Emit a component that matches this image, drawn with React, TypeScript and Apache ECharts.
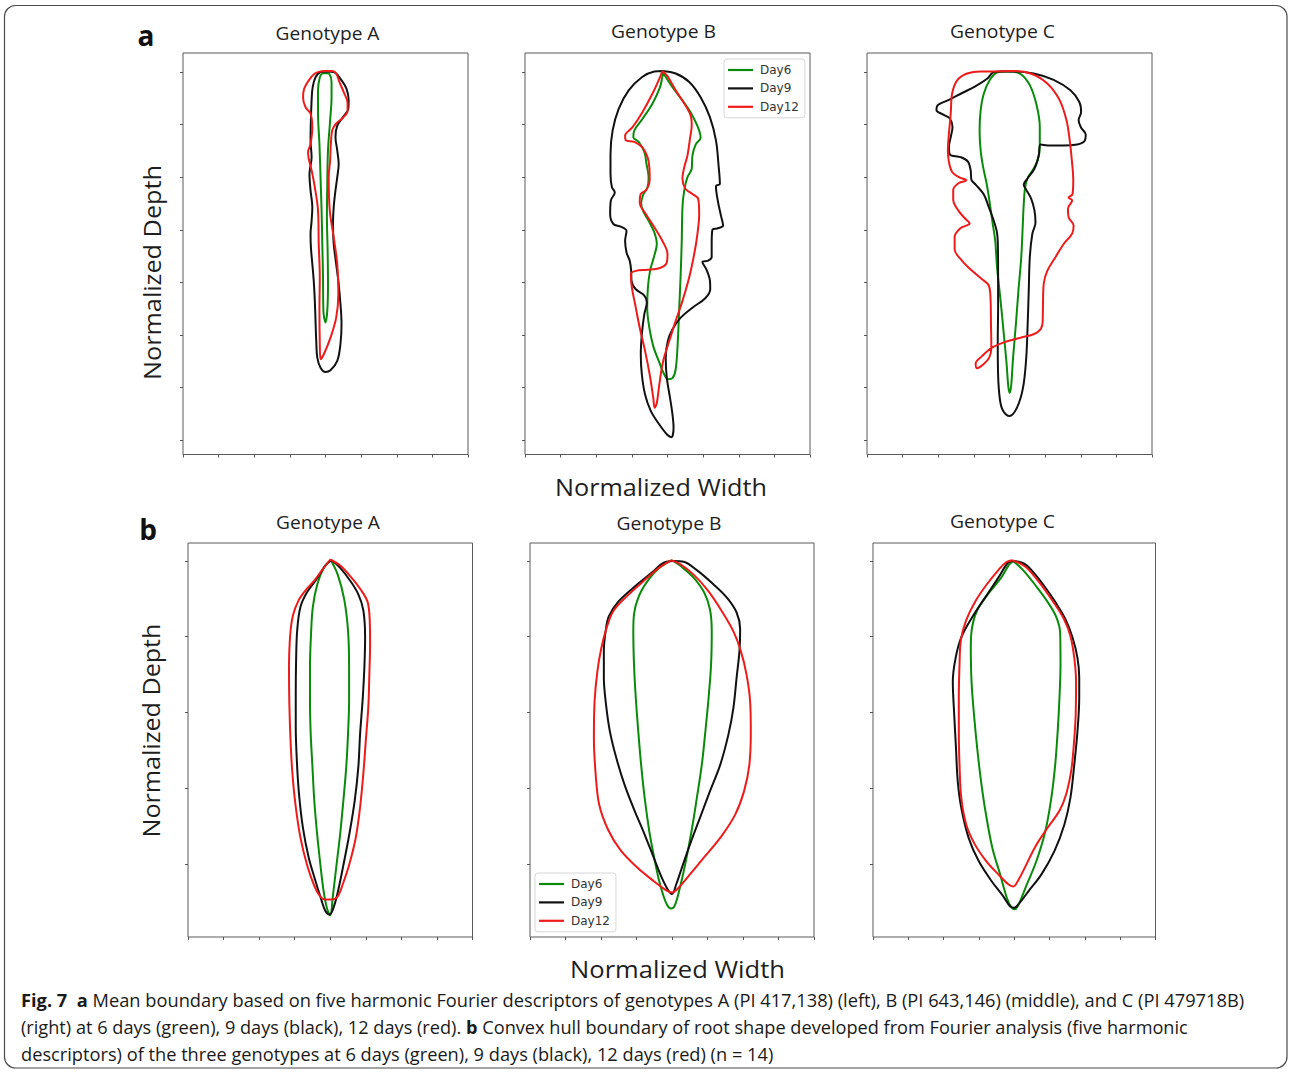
import React, { useEffect, useRef } from "react";
import * as echarts from "echarts";

// ---------- data ----------
const DAYS = ["Day6", "Day9", "Day12"];
const TITLES = ["Genotype A", "Genotype B", "Genotype C"];
const WIDTH_TICKS = [-4, 4, 1]; // min, max, interval (normalized width, tick units)
const DEPTH_TICKS_A = [0, 1, 2, 3, 4, 5, 6, 7];
const DEPTH_TICKS_B = [0, 1, 2, 3, 4];
const DEPTH_RANGE_A = [-0.36, 7.27];
const DEPTH_RANGE_B = [-0.238, 4.967];

// Row a: mean boundary (five harmonic Fourier descriptors), [width, depth]
const aA6 = [[0,0.02],[0.11,0.04],[0.17,0.19],[0.17,0.48],[0.13,0.92],[0.07,1.49],[0.05,2.13],[0.04,2.76],[0.06,3.4],[0.07,4.03],[0.05,4.54],[0,4.76],[-0.06,4.54],[-0.07,3.9],[-0.09,3.27],[-0.11,2.63],[-0.14,2.0],[-0.17,1.37],[-0.21,0.79],[-0.21,0.35],[-0.16,0.1],[-0.09,0.03]];
const aA9 = [[0,-0.01],[0.23,0],[0.42,0.13],[0.59,0.32],[0.65,0.54],[0.64,0.7],[0.51,0.84],[0.33,1.02],[0.28,1.24],[0.33,1.49],[0.37,1.75],[0.33,2.0],[0.28,2.25],[0.23,2.57],[0.21,2.89],[0.23,3.27],[0.3,3.65],[0.37,4.03],[0.42,4.41],[0.45,4.79],[0.42,5.17],[0.33,5.49],[0.14,5.67],[0,5.7],[-0.14,5.62],[-0.23,5.43],[-0.26,5.11],[-0.28,4.73],[-0.3,4.35],[-0.33,3.97],[-0.37,3.65],[-0.41,3.33],[-0.42,3.08],[-0.39,2.83],[-0.37,2.57],[-0.42,2.25],[-0.45,1.94],[-0.39,1.62],[-0.42,1.3],[-0.41,0.92],[-0.39,0.54],[-0.36,0.29],[-0.28,0.1],[-0.14,0]];
const aA12 = [[0,-0.02],[0.19,-0.02],[0.3,0.03],[0.39,0.19],[0.51,0.38],[0.62,0.59],[0.62,0.74],[0.49,0.87],[0.3,0.98],[0.19,1.11],[0.15,1.37],[0.13,1.68],[0.09,2.0],[0.12,2.63],[0.23,3.14],[0.33,3.65],[0.36,4.22],[0.3,4.67],[0.14,5.05],[-0.05,5.37],[-0.14,5.46],[-0.16,5.17],[-0.17,4.54],[-0.16,3.9],[-0.19,3.27],[-0.21,2.63],[-0.3,2.19],[-0.39,1.87],[-0.47,1.65],[-0.49,1.52],[-0.42,1.37],[-0.37,1.05],[-0.42,0.79],[-0.56,0.67],[-0.63,0.49],[-0.6,0.32],[-0.47,0.16],[-0.3,0.03],[-0.14,-0.01]];

const aB6 = [[-0.12,0.02],[0.14,0.29],[0.42,0.54],[0.7,0.83],[0.93,1.25],[0.79,1.38],[0.7,1.59],[0.68,1.84],[0.56,2.0],[0.47,2.25],[0.42,2.57],[0.4,3.21],[0.37,3.84],[0.33,4.48],[0.29,5.11],[0.23,5.65],[0.14,5.82],[0.02,5.84],[-0.09,5.75],[-0.23,5.52],[-0.4,5.21],[-0.51,4.86],[-0.57,4.48],[-0.55,4.1],[-0.49,3.78],[-0.37,3.49],[-0.3,3.27],[-0.37,3.05],[-0.53,2.83],[-0.68,2.65],[-0.74,2.5],[-0.68,2.33],[-0.56,2.19],[-0.53,2.0],[-0.59,1.75],[-0.65,1.52],[-0.81,1.33],[-0.96,1.24],[-0.93,1.11],[-0.7,0.89],[-0.42,0.6],[-0.21,0.29],[-0.14,0.08]];
const aB9 = [[-0.14,-0.02],[0.23,0.03],[0.61,0.19],[0.93,0.48],[1.19,0.86],[1.36,1.3],[1.43,1.75],[1.47,2.13],[1.36,2.17],[1.41,2.44],[1.5,2.73],[1.56,2.92],[1.42,2.97],[1.26,3.0],[1.24,3.27],[1.24,3.52],[1.12,3.59],[0.98,3.61],[1.09,3.75],[1.19,3.96],[1.2,4.13],[1.06,4.3],[0.7,4.48],[0.37,4.67],[0.14,4.89],[0.01,5.11],[-0.05,5.43],[-0.02,5.81],[0.07,6.19],[0.14,6.51],[0.17,6.76],[0.11,6.94],[0,6.9],[-0.23,6.7],[-0.47,6.44],[-0.63,6.13],[-0.72,5.75],[-0.75,5.37],[-0.72,4.98],[-0.65,4.6],[-0.58,4.38],[-0.65,4.25],[-0.89,4.13],[-1.01,3.97],[-1.02,3.78],[-1.06,3.59],[-1.15,3.43],[-1.19,3.21],[-1.15,3.02],[-1.31,2.94],[-1.52,2.89],[-1.61,2.7],[-1.59,2.44],[-1.48,2.29],[-1.56,2.19],[-1.6,1.94],[-1.6,1.56],[-1.54,1.11],[-1.37,0.7],[-1.09,0.35],[-0.72,0.1],[-0.37,-0.01]];
const aB12 = [[-0.14,-0.02],[0,0.08],[0.23,0.35],[0.47,0.6],[0.65,0.83],[0.68,1.02],[0.63,1.27],[0.56,1.59],[0.47,1.81],[0.42,2.03],[0.5,2.22],[0.7,2.32],[0.86,2.41],[0.89,2.7],[0.84,3.08],[0.75,3.46],[0.61,3.9],[0.42,4.35],[0.23,4.73],[0.05,5.11],[-0.12,5.49],[-0.23,5.94],[-0.3,6.29],[-0.36,6.38],[-0.4,6.19],[-0.5,5.75],[-0.63,5.3],[-0.78,4.86],[-0.91,4.41],[-1.0,4.1],[-1.03,3.84],[-0.89,3.78],[-0.56,3.76],[-0.23,3.73],[-0.03,3.64],[0,3.46],[-0.12,3.24],[-0.37,2.95],[-0.61,2.7],[-0.78,2.48],[-0.75,2.32],[-0.59,2.24],[-0.5,2.06],[-0.51,1.81],[-0.56,1.62],[-0.7,1.44],[-0.93,1.33],[-1.17,1.3],[-1.19,1.21],[-0.98,1.05],[-0.7,0.76],[-0.42,0.41],[-0.21,0.1]];

const aC6 = [[-0.07,-0.01],[0.29,0.03],[0.57,0.25],[0.76,0.63],[0.85,1.05],[0.85,1.43],[0.79,1.68],[0.66,1.86],[0.52,2.0],[0.44,2.19],[0.4,2.51],[0.37,2.95],[0.33,3.52],[0.25,4.16],[0.18,4.79],[0.1,5.43],[0.05,5.94],[0.01,6.1],[-0.03,6.0],[-0.08,5.56],[-0.16,4.98],[-0.25,4.35],[-0.35,3.71],[-0.4,3.21],[-0.47,2.89],[-0.55,2.51],[-0.64,2.13],[-0.74,1.81],[-0.81,1.49],[-0.84,1.11],[-0.81,0.73],[-0.72,0.41],[-0.55,0.15],[-0.35,0.01]];
const aC9 = [[-0.25,-0.01],[0.12,-0.01],[0.68,0.03],[1.24,0.15],[1.71,0.35],[1.96,0.57],[2.01,0.76],[1.94,0.92],[2.01,1.06],[2.14,1.19],[2.1,1.32],[1.9,1.38],[1.52,1.4],[1.15,1.4],[0.87,1.38],[0.82,1.59],[0.7,1.84],[0.5,2.03],[0.4,2.14],[0.48,2.25],[0.61,2.41],[0.7,2.63],[0.73,2.86],[0.64,3.08],[0.57,3.52],[0.54,4.16],[0.51,4.79],[0.47,5.43],[0.38,6.0],[0.21,6.38],[0,6.54],[-0.18,6.44],[-0.27,6.22],[-0.32,5.75],[-0.33,5.11],[-0.32,4.48],[-0.32,3.84],[-0.33,3.21],[-0.36,3.02],[-0.46,2.79],[-0.58,2.57],[-0.72,2.33],[-0.95,2.14],[-1.07,2.05],[-1.09,1.87],[-1.17,1.7],[-1.37,1.62],[-1.67,1.57],[-1.7,1.42],[-1.65,1.24],[-1.6,1.05],[-1.67,0.89],[-1.86,0.81],[-2.05,0.73],[-2.01,0.63],[-1.7,0.53],[-1.33,0.4],[-0.95,0.27],[-0.63,0.13],[-0.46,0.01]];
const aC12 = [[-0.44,-0.01],[0.03,-0.02],[0.59,0.03],[1.06,0.22],[1.41,0.54],[1.6,0.92],[1.69,1.3],[1.75,1.68],[1.79,2.06],[1.77,2.32],[1.66,2.39],[1.76,2.44],[1.64,2.6],[1.66,2.76],[1.8,2.92],[1.76,3.07],[1.52,3.27],[1.29,3.52],[1.06,3.78],[0.96,4.03],[0.94,4.41],[0.93,4.76],[0.78,4.95],[0.31,5.05],[-0.16,5.14],[-0.49,5.24],[-0.77,5.4],[-0.95,5.54],[-0.91,5.63],[-0.74,5.56],[-0.57,5.43],[-0.51,5.24],[-0.52,4.79],[-0.53,4.35],[-0.58,4.06],[-0.77,3.94],[-1.05,3.78],[-1.33,3.59],[-1.54,3.37],[-1.54,3.14],[-1.38,2.97],[-1.12,2.88],[-1.24,2.79],[-1.44,2.63],[-1.58,2.43],[-1.58,2.24],[-1.42,2.11],[-1.21,2.06],[-1.42,2.0],[-1.61,1.9],[-1.7,1.71],[-1.73,1.49],[-1.7,1.17],[-1.65,0.79],[-1.61,0.41],[-1.47,0.16],[-1.19,0.03],[-0.81,-0.01]];

// Row b: convex hull boundary, [width, depth]
const bA6 = [[0.02,-0.01],[0.21,0.18],[0.39,0.5],[0.5,0.92],[0.53,1.4],[0.53,1.84],[0.5,2.28],[0.45,2.72],[0.37,3.16],[0.28,3.6],[0.17,4.04],[0.07,4.44],[0,4.68],[-0.09,4.59],[-0.19,4.35],[-0.28,4.0],[-0.37,3.6],[-0.45,3.16],[-0.5,2.72],[-0.55,2.28],[-0.57,1.84],[-0.57,1.4],[-0.54,0.96],[-0.49,0.61],[-0.36,0.3],[-0.17,0.08]];
const bA9 = [[0.03,-0.01],[0.28,0.09],[0.56,0.26],[0.79,0.44],[0.93,0.65],[0.98,1.0],[0.96,1.4],[0.91,1.84],[0.84,2.28],[0.79,2.72],[0.69,3.16],[0.54,3.6],[0.36,4.04],[0.19,4.42],[0.07,4.61],[-0.02,4.67],[-0.14,4.62],[-0.26,4.46],[-0.42,4.22],[-0.61,3.91],[-0.77,3.52],[-0.88,3.07],[-0.94,2.63],[-0.97,2.19],[-0.97,1.75],[-0.96,1.31],[-0.93,0.92],[-0.84,0.61],[-0.65,0.41],[-0.37,0.23],[-0.14,0.06]];
const bA12 = [[0,-0.02],[0.28,0.06],[0.58,0.21],[0.86,0.38],[1.05,0.54],[1.11,0.78],[1.12,1.09],[1.1,1.49],[1.07,1.93],[1.0,2.37],[0.93,2.81],[0.84,3.25],[0.72,3.65],[0.54,4.0],[0.36,4.26],[0.21,4.43],[0.05,4.47],[-0.17,4.47],[-0.3,4.42],[-0.45,4.29],[-0.65,4.02],[-0.84,3.65],[-0.98,3.21],[-1.07,2.77],[-1.12,2.33],[-1.15,1.89],[-1.16,1.44],[-1.13,1.0],[-1.05,0.72],[-0.89,0.52],[-0.7,0.39],[-0.45,0.26],[-0.23,0.12]];

const bB6 = [[0,-0.01],[0.28,0.08],[0.61,0.22],[0.91,0.42],[1.07,0.64],[1.12,0.93],[1.1,1.37],[1.03,1.81],[0.94,2.25],[0.84,2.69],[0.7,3.13],[0.55,3.57],[0.37,4.01],[0.21,4.34],[0.07,4.56],[-0.03,4.59],[-0.14,4.54],[-0.25,4.41],[-0.38,4.19],[-0.51,3.9],[-0.64,3.57],[-0.77,3.13],[-0.87,2.69],[-0.95,2.25],[-1.02,1.81],[-1.07,1.37],[-1.09,0.93],[-1.07,0.7],[-0.93,0.46],[-0.65,0.24],[-0.33,0.08]];
const bB9 = [[0.05,0],[0.33,0.01],[0.7,0.12],[1.15,0.3],[1.54,0.48],[1.82,0.68],[1.92,0.9],[1.9,1.19],[1.82,1.54],[1.73,1.94],[1.59,2.29],[1.36,2.69],[1.07,3.04],[0.79,3.39],[0.51,3.74],[0.28,4.05],[0.12,4.27],[0,4.4],[-0.12,4.34],[-0.31,4.16],[-0.53,3.9],[-0.79,3.59],[-1.07,3.28],[-1.34,2.95],[-1.57,2.6],[-1.75,2.25],[-1.86,1.89],[-1.92,1.54],[-1.92,1.19],[-1.87,0.93],[-1.78,0.73],[-1.5,0.53],[-1.03,0.33],[-0.56,0.15],[-0.23,0.02]];
const bB12 = [[-0.03,-0.01],[0.23,0.04],[0.61,0.18],[1.03,0.4],[1.4,0.66],[1.73,0.93],[1.94,1.19],[2.1,1.5],[2.2,1.85],[2.22,2.25],[2.18,2.69],[2.03,3.04],[1.78,3.35],[1.4,3.63],[0.93,3.9],[0.47,4.16],[0.16,4.33],[0,4.38],[-0.16,4.35],[-0.51,4.23],[-0.98,4.05],[-1.45,3.82],[-1.8,3.55],[-2.05,3.22],[-2.15,2.82],[-2.2,2.33],[-2.18,1.85],[-2.1,1.45],[-1.99,1.15],[-1.84,0.88],[-1.65,0.66],[-1.26,0.46],[-0.79,0.26],[-0.37,0.09]];

const bC6 = [[-0.03,0],[0.25,0.12],[0.6,0.32],[0.93,0.53],[1.19,0.74],[1.3,0.95],[1.31,1.37],[1.28,1.81],[1.23,2.25],[1.16,2.69],[1.05,3.13],[0.88,3.57],[0.63,3.96],[0.36,4.27],[0.13,4.53],[0.02,4.6],[-0.09,4.57],[-0.21,4.45],[-0.4,4.14],[-0.62,3.79],[-0.8,3.35],[-0.94,2.91],[-1.05,2.47],[-1.14,2.03],[-1.21,1.59],[-1.23,1.15],[-1.21,0.93],[-1.06,0.66],[-0.75,0.44],[-0.37,0.22],[-0.15,0.05]];
const bC9 = [[0,0],[0.3,0.04],[0.58,0.17],[0.88,0.35],[1.16,0.54],[1.44,0.76],[1.65,1.01],[1.79,1.28],[1.84,1.54],[1.84,1.81],[1.79,2.25],[1.7,2.69],[1.59,3.13],[1.42,3.48],[1.14,3.83],[0.77,4.14],[0.39,4.37],[0.13,4.53],[0,4.58],[-0.12,4.56],[-0.31,4.43],[-0.64,4.23],[-1.01,3.96],[-1.29,3.66],[-1.5,3.26],[-1.6,2.91],[-1.65,2.47],[-1.7,2.03],[-1.74,1.59],[-1.66,1.28],[-1.5,1.01],[-1.2,0.75],[-0.82,0.48],[-0.45,0.22],[-0.17,0.02]];
const bC12 = [[-0.06,-0.01],[0.3,0.07],[0.67,0.26],[1.09,0.53],[1.4,0.76],[1.59,0.99],[1.7,1.28],[1.75,1.59],[1.74,2.03],[1.68,2.47],[1.61,2.78],[1.47,3.08],[1.28,3.3],[0.95,3.52],[0.6,3.77],[0.3,4.05],[0.11,4.22],[-0.03,4.3],[-0.17,4.27],[-0.45,4.14],[-0.8,3.96],[-1.12,3.74],[-1.36,3.48],[-1.5,3.13],[-1.55,2.69],[-1.57,2.25],[-1.57,1.81],[-1.55,1.37],[-1.51,1.04],[-1.36,0.78],[-1.1,0.53],[-0.78,0.31],[-0.45,0.12],[-0.24,0.02]];

const PANELS = [
  [aA6, aA9, aA12],
  [aB6, aB9, aB12],
  [aC6, aC9, aC12],
  [bA6, bA9, bA12],
  [bB6, bB9, bB12],
  [bC6, bC9, bC12],
];

const CAPTION = [
  [["Fig. 7", true], ["  ", false], ["a", true], [" Mean boundary based on five harmonic Fourier descriptors of genotypes A (PI 417,138) (left), B (PI 643,146) (middle), and C (PI 479718B)", false]],
  [["(right) at 6 days (green), 9 days (black), 12 days (red). ", false], ["b", true], [" Convex hull boundary of root shape developed from Fourier analysis (five harmonic", false]],
  [["descriptors) of the three genotypes at 6 days (green), 9 days (black), 12 days (red) (n = 14)", false]],
];

// ---------- layout / style ----------
const COLORS = ["#0a8a0a", "#111111", "#ee1b1b"];
const GRIDS = [
  { left: 183, top: 53, width: 285, height: 401.5 },
  { left: 525, top: 53, width: 285, height: 401.5 },
  { left: 867, top: 53, width: 285, height: 401.5 },
  { left: 188, top: 543, width: 284.5, height: 394 },
  { left: 530, top: 543, width: 284, height: 394 },
  { left: 873, top: 543, width: 282.5, height: 394 },
];
const SANS = "Open Sans";

let measureCtx: CanvasRenderingContext2D | null = null;
function measure(text: string, size: number, bold: boolean, family: string) {
  if (!measureCtx) measureCtx = document.createElement("canvas").getContext("2d");
  if (!measureCtx) return 0;
  measureCtx.font = `${bold ? "bold " : ""}${size}px "${family}"`;
  return measureCtx.measureText(text).width;
}
function fit(text: string, size: number, bold: boolean, target: number, family = SANS) {
  const w = measure(text, size, bold, family);
  return w > 0 ? target / w : 1;
}

function label(text: string, x: number, y: number, size: number, target: number | null, opts: any = {}) {
  const bold = !!opts.bold;
  const s = target ? fit(text, size, bold, target) : 1;
  return {
    type: "text",
    x,
    y,
    rotation: opts.rotation || 0,
    scaleX: s,
    silent: true,
    style: {
      text,
      x: 0,
      y: 0,
      align: opts.align || "center",
      verticalAlign: "middle",
      fontSize: size,
      fontFamily: SANS,
      fontWeight: bold ? "bold" : "normal",
      fill: opts.color || "#1e1e1e",
    },
  };
}

export default function App() {
  const ref = useRef<HTMLDivElement>(null);

  useEffect(() => {
    if (!ref.current) return;
    const chart = echarts.init(ref.current, undefined, { renderer: "svg" });

    const xAxis = GRIDS.map((_, i) => ({
      type: "value",
      gridIndex: i,
      position: "bottom",
      min: WIDTH_TICKS[0],
      max: WIDTH_TICKS[1],
      interval: WIDTH_TICKS[2],
      axisLine: { show: false, onZero: false },
      axisTick: { show: true, length: 3, lineStyle: { color: "#555", width: 1 } },
      axisLabel: { show: false },
      splitLine: { show: false },
    }));
    const yAxis = GRIDS.map((_, i) => {
      const rowA = i < 3;
      const range = rowA ? DEPTH_RANGE_A : DEPTH_RANGE_B;
      const ticks = rowA ? DEPTH_TICKS_A : DEPTH_TICKS_B;
      return {
        type: "value",
        gridIndex: i,
        position: "left",
        inverse: true,
        min: range[0],
        max: range[1],
        axisLine: { show: false, onZero: false },
        axisTick: { show: true, length: 3, customValues: ticks, lineStyle: { color: "#555", width: 1 } },
        axisLabel: { show: false, customValues: ticks },
        splitLine: { show: false },
      };
    });

    const series: any[] = [];
    PANELS.forEach((curves, gi) => {
      curves.forEach((pts, ci) => {
        series.push({
          type: "line",
          name: DAYS[ci],
          xAxisIndex: gi,
          yAxisIndex: gi,
          data: [...pts, pts[0]],
          symbol: "none",
          showSymbol: false,
          smooth: 0.35,
          silent: true,
          z: 2 + ci,
          lineStyle: { width: 2, color: COLORS[ci] },
          itemStyle: { color: COLORS[ci] },
        });
      });
    });

    const legendBase = {
      data: DAYS.map((d, i) => ({ name: d, icon: "rect", itemStyle: { color: COLORS[i] } })),
      orient: "vertical",
      itemWidth: 25,
      itemHeight: 2.2,
      itemGap: 6.4,
      padding: [5, 6, 5, 4],
      borderColor: "#d6d6d6",
      borderWidth: 1,
      borderRadius: 3,
      backgroundColor: "#ffffff",
      selectedMode: false,
      textStyle: { fontFamily: "DejaVu Sans", fontSize: 12, lineHeight: 12, color: "#333", padding: [0, 0, 0, 2] },
    };

    const graphics: any[] = [
      {
        type: "rect",
        z: -10,
        silent: true,
        shape: { x: 4.5, y: 5.5, width: 1282.5, height: 1062.5, r: 11 },
        style: { fill: "none", stroke: "#4a4a4a", lineWidth: 1.2 },
      },
      label("a", 146, 35, 28, null, { bold: true, color: "#111" }),
      label("b", 148, 529, 28, null, { bold: true, color: "#111" }),
      label(TITLES[0], 327.5, 33.5, 18.5, 104),
      label(TITLES[1], 663.5, 31.5, 18.5, 105),
      label(TITLES[2], 1002.5, 31.5, 18.5, 105),
      label(TITLES[0], 328, 522.5, 18.5, 104),
      label(TITLES[1], 669, 523, 18.5, 105),
      label(TITLES[2], 1002.5, 521.5, 18.5, 105),
      label("Normalized Width", 661, 486.5, 23.5, 212),
      label("Normalized Width", 677.5, 968.5, 23.5, 215),
      label("Normalized Depth", 151.5, 272.5, 23.5, 215, { rotation: Math.PI / 2 }),
      label("Normalized Depth", 151, 730.5, 23.5, 214, { rotation: Math.PI / 2 }),
    ];

    const capTargets = [1224, 1167, 752];
    const capY = [999, 1026, 1053];
    const capSize = 18.5;
    CAPTION.forEach((segs: any[], li) => {
      let natural = 0;
      let text = "";
      segs.forEach(([t, b]: [string, boolean]) => {
        natural += measure(t, capSize, b, SANS);
        text += b ? `{b|${t}}` : t;
      });
      const s = natural > 0 ? capTargets[li] / natural : 1;
      graphics.push({
        type: "text",
        x: 21,
        y: capY[li],
        scaleX: s,
        silent: true,
        style: {
          text,
          x: 0,
          y: 0,
          align: "left",
          verticalAlign: "middle",
          fontSize: capSize,
          fontFamily: SANS,
          fill: "#1a1a1a",
          rich: {
            b: { fontSize: capSize, fontFamily: SANS, fontWeight: "bold", fill: "#1a1a1a" },
          },
        },
      });
    });

    chart.setOption({
      animation: false,
      backgroundColor: "#ffffff",
      grid: GRIDS.map((g) => ({
        ...g,
        show: true,
        borderColor: "#5a5a5a",
        borderWidth: 1,
        backgroundColor: "transparent",
        containLabel: false,
      })),
      xAxis,
      yAxis,
      legend: [
        { ...legendBase, left: 724, top: 59 },
        { ...legendBase, left: 535, top: 873 },
      ],
      series,
      graphic: { elements: graphics },
    });

    return () => chart.dispose();
  }, []);

  return (
    <div
      ref={ref}
      style={{ position: "absolute", left: 0, top: 0, width: 1290, height: 1072, background: "#fff" }}
    />
  );
}
